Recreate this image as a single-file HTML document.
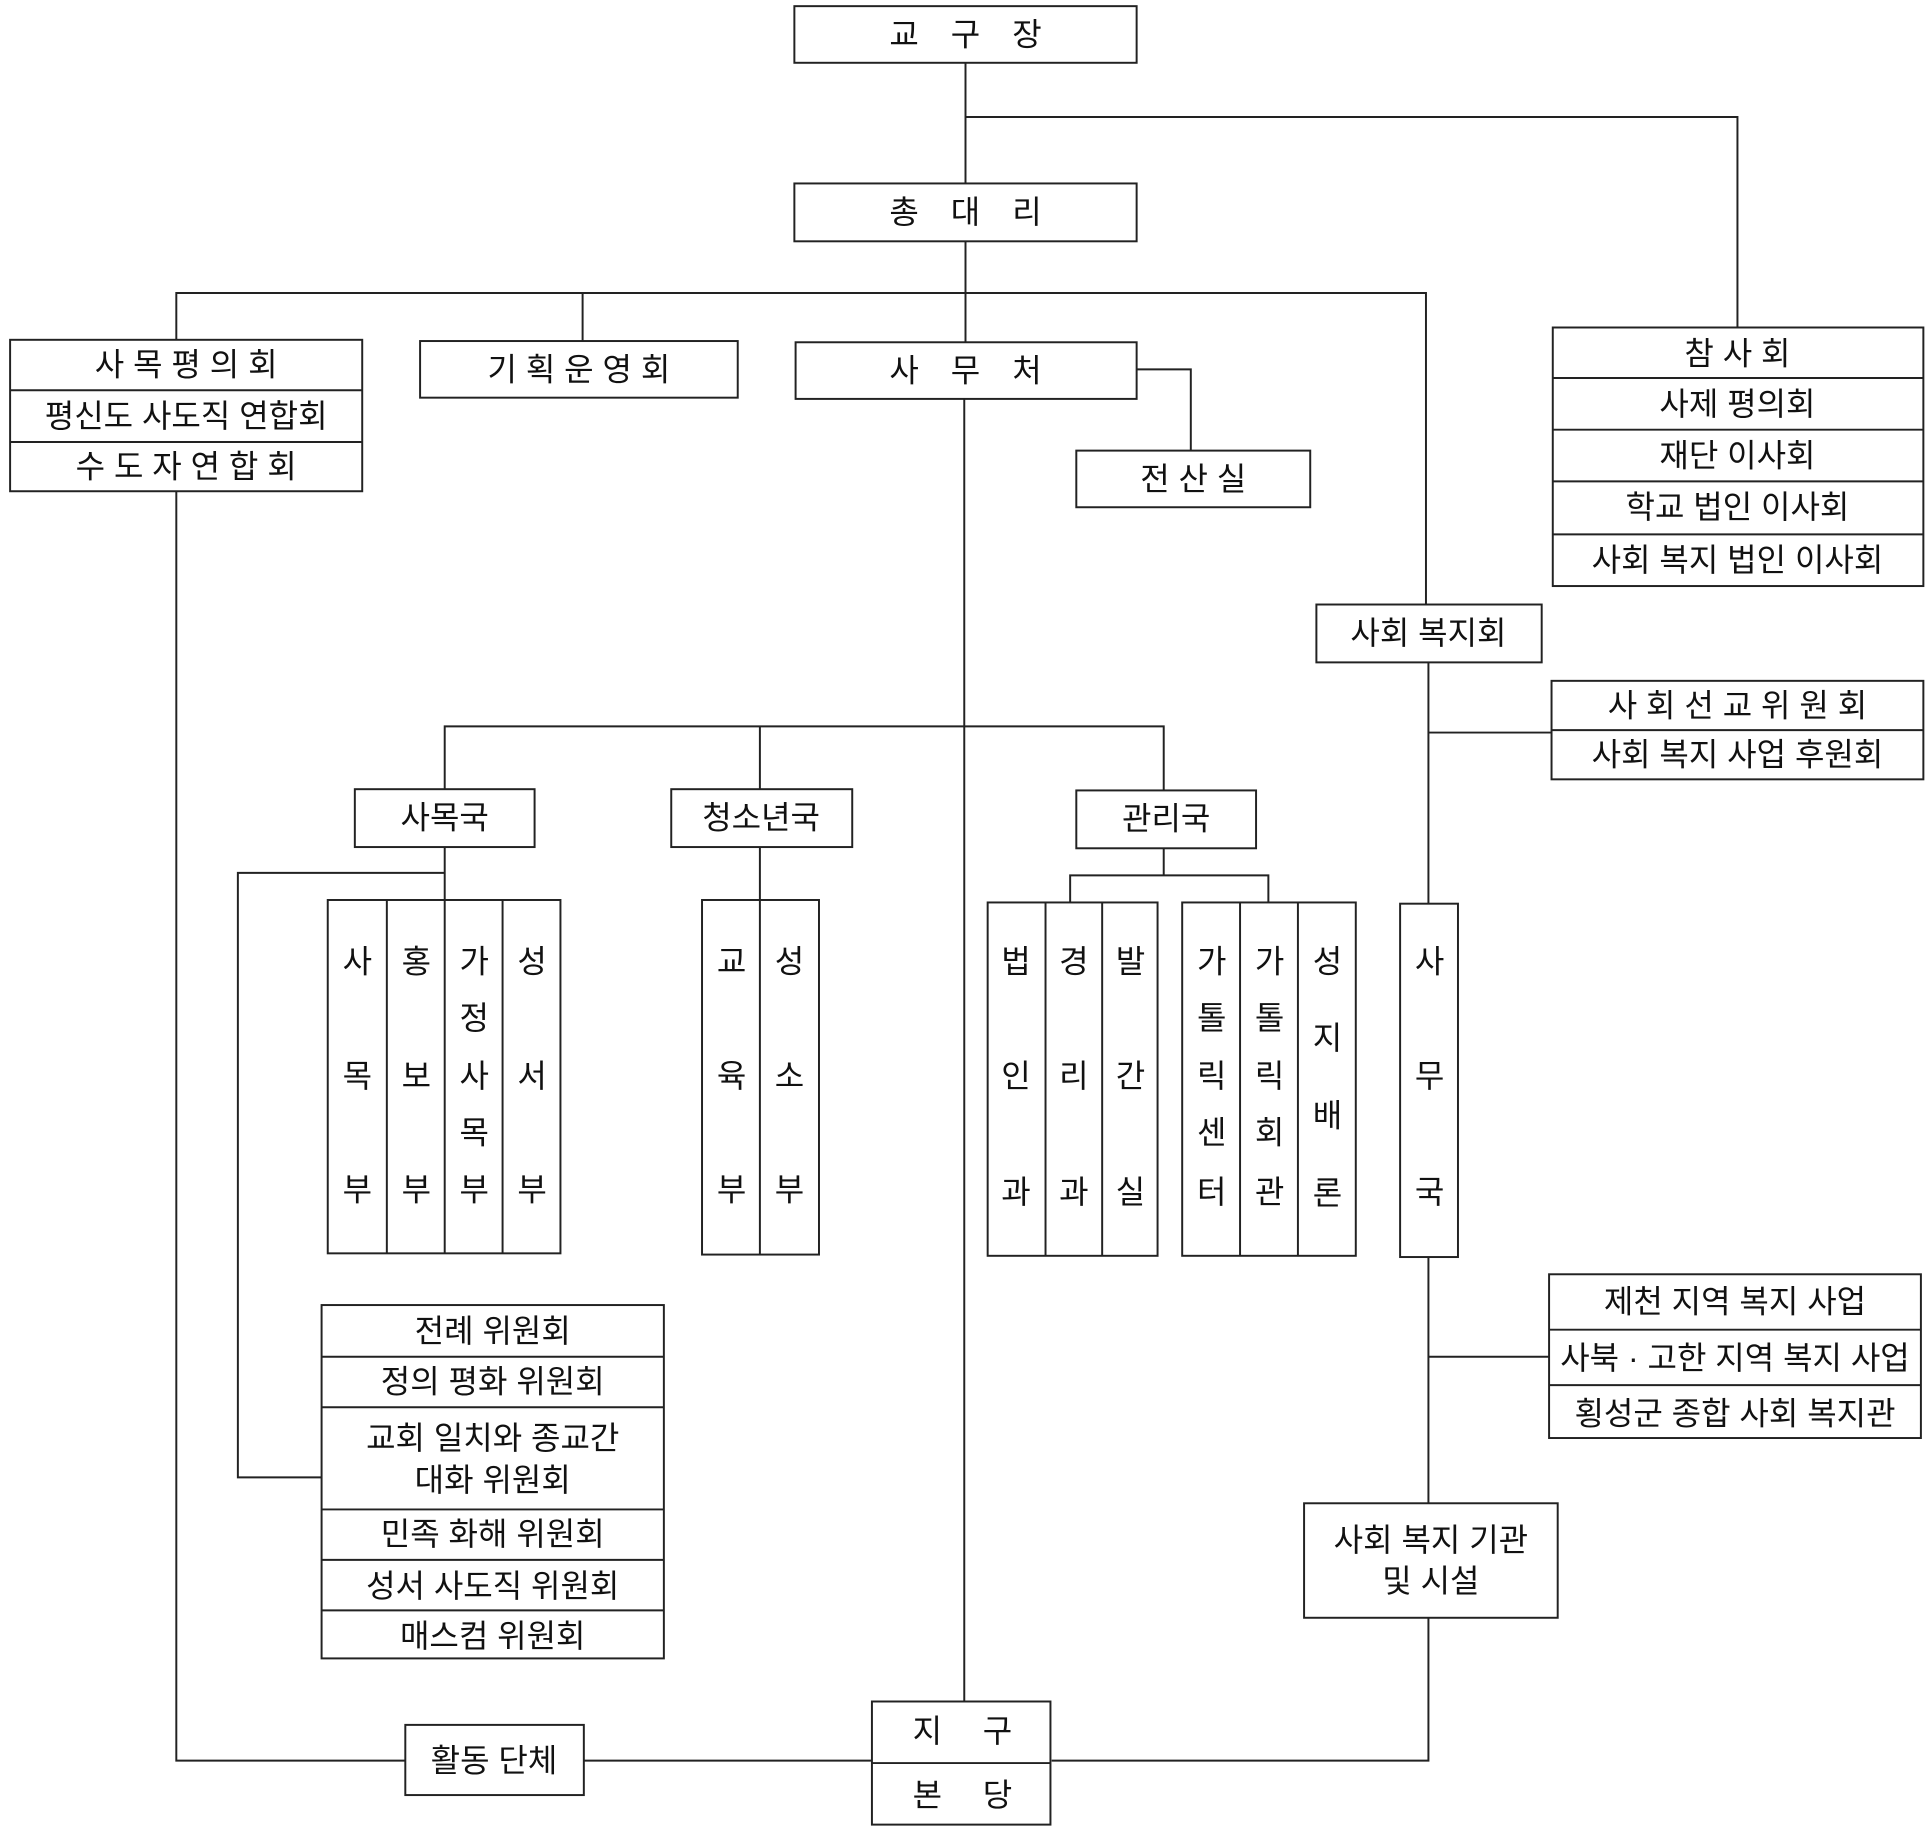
<!DOCTYPE html>
<html><head><meta charset="utf-8"><style>
html,body{margin:0;padding:0;background:#fff}
svg{display:block}
text{font-family:"Liberation Sans","Noto Sans CJK KR","NanumGothic",sans-serif;font-size:26px;fill:#111;text-anchor:middle;dominant-baseline:central}
rect{fill:none;stroke:#222;stroke-width:1.6}
line,polyline{fill:none;stroke:#222;stroke-width:1.6}
</style></head><body>
<svg width="1931" height="1832" viewBox="0 0 1568 1488" xmlns="http://www.w3.org/2000/svg">
<line x1="784" y1="51" x2="784" y2="149"/>
<polyline points="784,95 1411,95 1411,266"/>
<line x1="784" y1="196" x2="784" y2="278"/>
<polyline points="143,276 143,238 1158,238 1158,491"/>
<line x1="473" y1="238" x2="473" y2="277"/>
<polyline points="923,300 967,300 967,366"/>
<line x1="783" y1="324" x2="783" y2="1382"/>
<line x1="1160" y1="538" x2="1160" y2="734"/>
<line x1="1160" y1="595" x2="1260" y2="595"/>
<polyline points="361,641 361,590 945,590 945,642"/>
<line x1="617" y1="590" x2="617" y2="641"/>
<line x1="361" y1="688" x2="361" y2="731"/>
<polyline points="361,709 193,709 193,1200 261,1200"/>
<line x1="617" y1="688" x2="617" y2="731"/>
<line x1="945" y1="689" x2="945" y2="711"/>
<polyline points="869,733 869,711 1030,711 1030,733"/>
<line x1="1160" y1="1021" x2="1160" y2="1221"/>
<line x1="1160" y1="1102" x2="1258" y2="1102"/>
<polyline points="1160,1314 1160,1430 854,1430"/>
<polyline points="143,399 143,1430 329,1430"/>
<line x1="474" y1="1430" x2="708" y2="1430"/>

<rect x="645" y="5" width="278" height="46"/><text x="784" y="28">교　구　장</text>
<rect x="645" y="149" width="278" height="47"/><text x="784" y="172">총　대　리</text>

<rect x="8" y="276" width="286" height="123"/>
<line x1="8" y1="317" x2="294" y2="317"/><line x1="8" y1="359" x2="294" y2="359"/>
<text x="151" y="296">사 목 평 의 회</text>
<text x="151" y="338">평신도 사도직 연합회</text>
<text x="151" y="379">수 도 자 연 합 회</text>

<rect x="341" y="277" width="258" height="46"/><text x="470" y="300">기 획 운 영 회</text>
<rect x="646" y="278" width="277" height="46"/><text x="784" y="301">사　무　처</text>
<rect x="874" y="366" width="190" height="46"/><text x="969" y="389">전 산 실</text>

<rect x="1261" y="266" width="301" height="210"/>
<line x1="1261" y1="307" x2="1562" y2="307"/><line x1="1261" y1="349" x2="1562" y2="349"/>
<line x1="1261" y1="391" x2="1562" y2="391"/><line x1="1261" y1="434" x2="1562" y2="434"/>
<text x="1411" y="287">참 사 회</text>
<text x="1411" y="328">사제 평의회</text>
<text x="1411" y="370">재단 이사회</text>
<text x="1411" y="412">학교 법인 이사회</text>
<text x="1411" y="455">사회 복지 법인 이사회</text>

<rect x="1069" y="491" width="183" height="47"/><text x="1160" y="514">사회 복지회</text>

<rect x="1260" y="553" width="302" height="80"/>
<line x1="1260" y1="593" x2="1562" y2="593"/>
<text x="1411" y="573">사 회 선 교 위 원 회</text>
<text x="1411" y="613">사회 복지 사업 후원회</text>

<rect x="288" y="641" width="146" height="47"/><text x="361" y="664">사목국</text>
<rect x="545" y="641" width="147" height="47"/><text x="618" y="664">청소년국</text>
<rect x="874" y="642" width="146" height="47"/><text x="947" y="665">관리국</text>

<rect x="266" y="731" width="189" height="287"/>
<line x1="314" y1="731" x2="314" y2="1018"/><line x1="361" y1="731" x2="361" y2="1018"/><line x1="408" y1="731" x2="408" y2="1018"/>
<text x="290" y="781">사</text><text x="290" y="874">목</text><text x="290" y="966">부</text>
<text x="338" y="781">홍</text><text x="338" y="874">보</text><text x="338" y="966">부</text>
<text x="385" y="781">가</text><text x="385" y="827">정</text><text x="385" y="874">사</text><text x="385" y="920">목</text><text x="385" y="966">부</text>
<text x="432" y="781">성</text><text x="432" y="874">서</text><text x="432" y="966">부</text>

<rect x="570" y="731" width="95" height="288"/>
<line x1="617" y1="731" x2="617" y2="1019"/>
<text x="594" y="781">교</text><text x="594" y="874">육</text><text x="594" y="966">부</text>
<text x="641" y="781">성</text><text x="641" y="874">소</text><text x="641" y="966">부</text>

<rect x="802" y="733" width="138" height="287"/>
<line x1="849" y1="733" x2="849" y2="1020"/><line x1="895" y1="733" x2="895" y2="1020"/>
<text x="825" y="781">법</text><text x="825" y="874">인</text><text x="825" y="968">과</text>
<text x="872" y="781">경</text><text x="872" y="874">리</text><text x="872" y="968">과</text>
<text x="918" y="781">발</text><text x="918" y="874">간</text><text x="918" y="968">실</text>

<rect x="960" y="733" width="141" height="287"/>
<line x1="1007" y1="733" x2="1007" y2="1020"/><line x1="1054" y1="733" x2="1054" y2="1020"/>
<text x="984" y="781">가</text><text x="984" y="827">톨</text><text x="984" y="874">릭</text><text x="984" y="920">센</text><text x="984" y="968">터</text>
<text x="1031" y="781">가</text><text x="1031" y="827">톨</text><text x="1031" y="874">릭</text><text x="1031" y="920">회</text><text x="1031" y="968">관</text>
<text x="1078" y="781">성</text><text x="1078" y="843">지</text><text x="1078" y="906">배</text><text x="1078" y="969">론</text>

<rect x="1137" y="734" width="47" height="287"/>
<text x="1161" y="781">사</text><text x="1161" y="874">무</text><text x="1161" y="968">국</text>

<rect x="1258" y="1035" width="302" height="133"/>
<line x1="1258" y1="1080" x2="1560" y2="1080"/><line x1="1258" y1="1125" x2="1560" y2="1125"/>
<text x="1409" y="1057">제천 지역 복지 사업</text>
<text x="1409" y="1103">사북 · 고한 지역 복지 사업</text>
<text x="1409" y="1148">횡성군 종합 사회 복지관</text>

<rect x="1059" y="1221" width="206" height="93"/>
<text x="1162" y="1251">사회 복지 기관</text>
<text x="1162" y="1284">및 시설</text>

<rect x="261" y="1060" width="278" height="287"/>
<line x1="261" y1="1102" x2="539" y2="1102"/><line x1="261" y1="1143" x2="539" y2="1143"/>
<line x1="261" y1="1226" x2="539" y2="1226"/><line x1="261" y1="1267" x2="539" y2="1267"/>
<line x1="261" y1="1308" x2="539" y2="1308"/>
<text x="400" y="1081">전례 위원회</text>
<text x="400" y="1122">정의 평화 위원회</text>
<text x="400" y="1168">교회 일치와 종교간</text>
<text x="400" y="1202">대화 위원회</text>
<text x="400" y="1246">민족 화해 위원회</text>
<text x="400" y="1288">성서 사도직 위원회</text>
<text x="400" y="1329">매스컴 위원회</text>

<rect x="329" y="1401" width="145" height="57"/><text x="401" y="1430">활동 단체</text>

<rect x="708" y="1382" width="145" height="100"/>
<line x1="708" y1="1432" x2="853" y2="1432"/>
<text x="753" y="1406">지</text><text x="810" y="1406">구</text>
<text x="753" y="1458">본</text><text x="810" y="1458">당</text>
</svg>
</body></html>
